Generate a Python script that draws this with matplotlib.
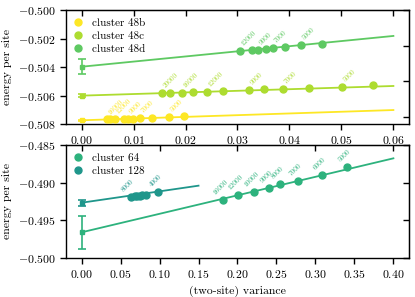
import matplotlib
matplotlib.use("Agg")
import matplotlib.pyplot as plt
import numpy as np

plt.rcParams["font.family"] = "serif"
plt.rcParams["font.serif"] = ["cmr10"]
plt.rcParams["mathtext.fontset"] = "cm"
plt.rcParams["axes.formatter.use_mathtext"] = True
plt.rcParams["axes.unicode_minus"] = True

# ---- data: top panel (48-site clusters) ----
var_48b = [0.0049, 0.0054, 0.0065, 0.0081, 0.0090, 0.0099, 0.0112, 0.0135, 0.0168, 0.0197]
e_48b = [-0.50768, -0.50767, -0.50766, -0.50764, -0.50763, -0.50762, -0.50760, -0.50757, -0.50751, -0.50746]
lab_48b = ["16000", "", "12000", "", "9000", "", "7000", "", "5000", ""]

var_48c = [0.0155, 0.0171, 0.0194, 0.0215, 0.0241, 0.0272, 0.0322, 0.0351, 0.0387, 0.0438, 0.0502, 0.0560]
e_48c = [-0.50585, -0.50583, -0.50580, -0.50577, -0.50573, -0.50566, -0.50559, -0.50557, -0.50552, -0.50545, -0.50538, -0.50527]
lab_48c = ["20000", "", "16000", "", "12000", "", "9000", "", "7000", "", "5000", ""]

var_48d = [0.0305, 0.0328, 0.0340, 0.0355, 0.0369, 0.0392, 0.0422, 0.0463]
e_48d = [-0.50288, -0.50281, -0.50279, -0.50271, -0.50267, -0.50257, -0.50248, -0.50236]
lab_48d = ["12000", "", "9000", "", "7000", "", "5000", ""]

# extrapolated energy, error, slope of linear fit
fit_48 = {"48b": (-0.50774, 0.00005, 0.0120),
          "48c": (-0.50601, 0.00010, 0.0113),
          "48d": (-0.50398, 0.00052, 0.0360)}

# ---- data: bottom panel (64 / 128) ----
var_64 = [0.1817, 0.2010, 0.2216, 0.2405, 0.2546, 0.2782, 0.3083, 0.3408]
e_64 = [-0.49226, -0.49164, -0.49124, -0.49067, -0.49022, -0.48978, -0.48902, -0.48796]
lab_64 = ["16000", "12000", "10000", "9000", "8000", "7000", "6000", "5000"]

var_128 = [0.0630, 0.0682, 0.0711, 0.0746, 0.0781, 0.0832, 0.0981]
e_128 = [-0.49186, -0.49181, -0.49177, -0.49173, -0.49168, -0.49164, -0.49128]
lab_128 = ["8000", "", "", "", "", "", "4000"]

fit_big = {"64": (-0.49659, 0.00220, 0.02455),
           "128": (-0.49266, 0.00038, 0.01507)}

colors = {"48b": "#fde725", "48c": "#addc30", "48d": "#5ec962",
          "64": "#2db27d", "128": "#1f968b"}


def draw(ax, x, y, labels, key, fit, xend, ha, dx):
    c = colors[key]
    e0, de, slope = fit
    xs = np.array([0.0, xend])
    ax.plot(xs, e0 + slope * xs, color=c, lw=1.3, zorder=2)
    ax.errorbar([0.0], [e0], yerr=[de], fmt="s", ms=2.5, color=c,
                capsize=3, elinewidth=1.2, capthick=1.2, zorder=3)
    ax.plot(x, y, "o", ms=5, color=c, zorder=4, label="cluster " + key)
    for xi, yi, t in zip(x, y, labels):
        if t:
            ax.annotate(t, (xi, yi), xytext=(dx, 3), textcoords="offset points",
                        rotation=45, fontsize=5.3, color=c, ha=ha, va="bottom")


def style(ax):
    for s in ax.spines.values():
        s.set_linewidth(1.0)
    ax.tick_params(direction="out", length=4, width=1.0, labelsize=8.5)
    top = ax.secondary_xaxis("top")
    top.tick_params(direction="in", length=4, width=1.0, labeltop=False)
    right = ax.secondary_yaxis("right")
    right.tick_params(direction="in", length=4, width=1.0, labelright=False)
    ax.set_ylabel("energy per site", fontsize=8.5)


fig = plt.figure(figsize=(4.15, 2.97), dpi=100)
ax1 = fig.add_axes([0.159, 0.5825, 0.8265, 0.3838])
ax2 = fig.add_axes([0.159, 0.1313, 0.8265, 0.3805])

draw(ax1, var_48b, e_48b, lab_48b, "48b", fit_48["48b"], 0.06, "left", 0)
draw(ax1, var_48c, e_48c, lab_48c, "48c", fit_48["48c"], 0.06, "left", 0)
draw(ax1, var_48d, e_48d, lab_48d, "48d", fit_48["48d"], 0.06, "left", 0)
ax1.set_xlim(-0.003, 0.063)
ax1.set_ylim(-0.508, -0.500)
ax1.set_xticks([0.0, 0.01, 0.02, 0.03, 0.04, 0.05, 0.06])
ax1.set_yticks([-0.508, -0.506, -0.504, -0.502, -0.500])
ax1.xaxis.set_major_formatter(matplotlib.ticker.FormatStrFormatter("$%.2f$"))
ax1.yaxis.set_major_formatter(matplotlib.ticker.FormatStrFormatter("$%.3f$"))
style(ax1)
ax1.legend(loc="upper left", frameon=False, fontsize=8, handlelength=0.8,
           handletextpad=0.8, borderaxespad=0.3, labelspacing=0.3)

draw(ax2, var_64, e_64, lab_64, "64", fit_big["64"], 0.40, "center", -2)
draw(ax2, var_128, e_128, lab_128, "128", fit_big["128"], 0.15, "center", -2)
ax2.set_xlim(-0.02, 0.42)
ax2.set_ylim(-0.500, -0.485)
ax2.set_xticks(np.arange(0, 0.41, 0.05))
ax2.set_yticks([-0.500, -0.495, -0.490, -0.485])
ax2.xaxis.set_major_formatter(matplotlib.ticker.FormatStrFormatter("$%.2f$"))
ax2.yaxis.set_major_formatter(matplotlib.ticker.FormatStrFormatter("$%.3f$"))
style(ax2)
ax2.set_xlabel("(two-site) variance", fontsize=8.5)
ax2.legend(loc="upper left", frameon=False, fontsize=8, handlelength=0.8,
           handletextpad=0.8, borderaxespad=0.3, labelspacing=0.3)

fig.savefig("out.png", dpi=100)
